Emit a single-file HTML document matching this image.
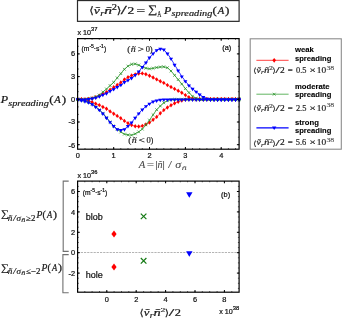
<!DOCTYPE html>
<html><head><meta charset="utf-8"><title>Spreading figure</title>
<style>html,body{margin:0;padding:0;background:#fff;}svg{display:block;}</style></head>
<body>
<svg width="342" height="318" viewBox="0 0 342 318">
<rect width="342" height="318" fill="#fff"/>
<rect x="77.5" y="0.55" width="161.6" height="20.8" fill="#fff" stroke="#2a2a2a" stroke-width="1.2"/>
<svg x="0" y="0" width="241" height="318" viewBox="0 0 241 318">
<polyline points="77.8,99.3 81.4,99.3 85.0,99.3 88.6,98.9 92.1,98.2 95.7,97.2 99.3,95.7 102.9,93.9 106.5,92.1 110.1,89.7 113.7,87.3 117.2,84.9 120.8,82.5 124.4,79.5 128.0,77.2 131.6,75.5 135.2,74.4 138.7,73.5 142.3,73.4 145.9,74.2 149.5,75.8 153.1,77.5 156.7,79.4 160.3,81.3 163.8,82.9 167.4,85.1 171.0,87.0 174.6,88.9 178.2,90.8 181.8,92.8 185.4,95.1 188.9,97.2 192.5,98.4 196.1,99.2 199.7,99.3 203.3,99.3 206.9,99.3 210.4,99.3 214.0,99.3 217.6,99.3 221.2,99.3 224.8,99.3 228.4,99.3 232.0,99.3 235.5,99.3 239.1,99.3" fill="none" stroke="#ff0000" stroke-width="0.7" stroke-linejoin="round"/>
<path d="M77.8,97.1l1.6,2.2l-1.6,2.2l-1.6,-2.2zM81.4,97.1l1.6,2.2l-1.6,2.2l-1.6,-2.2zM85.0,97.1l1.6,2.2l-1.6,2.2l-1.6,-2.2zM88.6,96.7l1.6,2.2l-1.6,2.2l-1.6,-2.2zM92.1,96.0l1.6,2.2l-1.6,2.2l-1.6,-2.2zM95.7,95.0l1.6,2.2l-1.6,2.2l-1.6,-2.2zM99.3,93.5l1.6,2.2l-1.6,2.2l-1.6,-2.2zM102.9,91.7l1.6,2.2l-1.6,2.2l-1.6,-2.2zM106.5,89.9l1.6,2.2l-1.6,2.2l-1.6,-2.2zM110.1,87.5l1.6,2.2l-1.6,2.2l-1.6,-2.2zM113.7,85.1l1.6,2.2l-1.6,2.2l-1.6,-2.2zM117.2,82.7l1.6,2.2l-1.6,2.2l-1.6,-2.2zM120.8,80.3l1.6,2.2l-1.6,2.2l-1.6,-2.2zM124.4,77.3l1.6,2.2l-1.6,2.2l-1.6,-2.2zM128.0,75.0l1.6,2.2l-1.6,2.2l-1.6,-2.2zM131.6,73.3l1.6,2.2l-1.6,2.2l-1.6,-2.2zM135.2,72.2l1.6,2.2l-1.6,2.2l-1.6,-2.2zM138.7,71.3l1.6,2.2l-1.6,2.2l-1.6,-2.2zM142.3,71.2l1.6,2.2l-1.6,2.2l-1.6,-2.2zM145.9,72.0l1.6,2.2l-1.6,2.2l-1.6,-2.2zM149.5,73.6l1.6,2.2l-1.6,2.2l-1.6,-2.2zM153.1,75.3l1.6,2.2l-1.6,2.2l-1.6,-2.2zM156.7,77.2l1.6,2.2l-1.6,2.2l-1.6,-2.2zM160.3,79.1l1.6,2.2l-1.6,2.2l-1.6,-2.2zM163.8,80.7l1.6,2.2l-1.6,2.2l-1.6,-2.2zM167.4,82.9l1.6,2.2l-1.6,2.2l-1.6,-2.2zM171.0,84.8l1.6,2.2l-1.6,2.2l-1.6,-2.2zM174.6,86.7l1.6,2.2l-1.6,2.2l-1.6,-2.2zM178.2,88.6l1.6,2.2l-1.6,2.2l-1.6,-2.2zM181.8,90.6l1.6,2.2l-1.6,2.2l-1.6,-2.2zM185.4,92.9l1.6,2.2l-1.6,2.2l-1.6,-2.2zM188.9,95.0l1.6,2.2l-1.6,2.2l-1.6,-2.2zM192.5,96.2l1.6,2.2l-1.6,2.2l-1.6,-2.2zM196.1,97.0l1.6,2.2l-1.6,2.2l-1.6,-2.2zM199.7,97.1l1.6,2.2l-1.6,2.2l-1.6,-2.2zM203.3,97.1l1.6,2.2l-1.6,2.2l-1.6,-2.2zM206.9,97.1l1.6,2.2l-1.6,2.2l-1.6,-2.2zM210.4,97.1l1.6,2.2l-1.6,2.2l-1.6,-2.2zM214.0,97.1l1.6,2.2l-1.6,2.2l-1.6,-2.2zM217.6,97.1l1.6,2.2l-1.6,2.2l-1.6,-2.2zM221.2,97.1l1.6,2.2l-1.6,2.2l-1.6,-2.2zM224.8,97.1l1.6,2.2l-1.6,2.2l-1.6,-2.2zM228.4,97.1l1.6,2.2l-1.6,2.2l-1.6,-2.2zM232.0,97.1l1.6,2.2l-1.6,2.2l-1.6,-2.2zM235.5,97.1l1.6,2.2l-1.6,2.2l-1.6,-2.2zM239.1,97.1l1.6,2.2l-1.6,2.2l-1.6,-2.2z" fill="#ff0000"/>
<polyline points="77.8,99.3 81.4,99.5 85.0,99.9 88.6,100.8 92.1,102.1 95.7,103.7 99.3,105.1 102.9,107.0 106.5,108.7 110.1,111.4 113.7,113.7 117.2,115.9 120.8,118.2 124.4,120.9 128.0,123.2 131.6,125.1 135.2,126.2 138.7,126.5 142.3,125.9 145.9,124.4 149.5,122.6 153.1,119.8 156.7,116.9 160.3,113.3 163.8,110.1 167.4,107.5 171.0,105.3 174.6,103.2 178.2,101.7 181.8,100.5 185.4,99.6 188.9,99.3 192.5,99.3 196.1,99.3 199.7,99.3 203.3,99.3 206.9,99.3 210.4,99.3 214.0,99.3 217.6,99.3 221.2,99.3 224.8,99.3 228.4,99.3 232.0,99.3 235.5,99.3 239.1,99.3" fill="none" stroke="#ff0000" stroke-width="0.7" stroke-linejoin="round"/>
<path d="M77.8,97.1l1.6,2.2l-1.6,2.2l-1.6,-2.2zM81.4,97.3l1.6,2.2l-1.6,2.2l-1.6,-2.2zM85.0,97.7l1.6,2.2l-1.6,2.2l-1.6,-2.2zM88.6,98.6l1.6,2.2l-1.6,2.2l-1.6,-2.2zM92.1,99.9l1.6,2.2l-1.6,2.2l-1.6,-2.2zM95.7,101.5l1.6,2.2l-1.6,2.2l-1.6,-2.2zM99.3,102.9l1.6,2.2l-1.6,2.2l-1.6,-2.2zM102.9,104.8l1.6,2.2l-1.6,2.2l-1.6,-2.2zM106.5,106.5l1.6,2.2l-1.6,2.2l-1.6,-2.2zM110.1,109.2l1.6,2.2l-1.6,2.2l-1.6,-2.2zM113.7,111.5l1.6,2.2l-1.6,2.2l-1.6,-2.2zM117.2,113.7l1.6,2.2l-1.6,2.2l-1.6,-2.2zM120.8,116.0l1.6,2.2l-1.6,2.2l-1.6,-2.2zM124.4,118.7l1.6,2.2l-1.6,2.2l-1.6,-2.2zM128.0,121.0l1.6,2.2l-1.6,2.2l-1.6,-2.2zM131.6,122.9l1.6,2.2l-1.6,2.2l-1.6,-2.2zM135.2,124.0l1.6,2.2l-1.6,2.2l-1.6,-2.2zM138.7,124.3l1.6,2.2l-1.6,2.2l-1.6,-2.2zM142.3,123.7l1.6,2.2l-1.6,2.2l-1.6,-2.2zM145.9,122.2l1.6,2.2l-1.6,2.2l-1.6,-2.2zM149.5,120.4l1.6,2.2l-1.6,2.2l-1.6,-2.2zM153.1,117.6l1.6,2.2l-1.6,2.2l-1.6,-2.2zM156.7,114.7l1.6,2.2l-1.6,2.2l-1.6,-2.2zM160.3,111.1l1.6,2.2l-1.6,2.2l-1.6,-2.2zM163.8,107.9l1.6,2.2l-1.6,2.2l-1.6,-2.2zM167.4,105.3l1.6,2.2l-1.6,2.2l-1.6,-2.2zM171.0,103.1l1.6,2.2l-1.6,2.2l-1.6,-2.2zM174.6,101.0l1.6,2.2l-1.6,2.2l-1.6,-2.2zM178.2,99.5l1.6,2.2l-1.6,2.2l-1.6,-2.2zM181.8,98.3l1.6,2.2l-1.6,2.2l-1.6,-2.2zM185.4,97.4l1.6,2.2l-1.6,2.2l-1.6,-2.2zM188.9,97.1l1.6,2.2l-1.6,2.2l-1.6,-2.2zM192.5,97.1l1.6,2.2l-1.6,2.2l-1.6,-2.2zM196.1,97.1l1.6,2.2l-1.6,2.2l-1.6,-2.2zM199.7,97.1l1.6,2.2l-1.6,2.2l-1.6,-2.2zM203.3,97.1l1.6,2.2l-1.6,2.2l-1.6,-2.2zM206.9,97.1l1.6,2.2l-1.6,2.2l-1.6,-2.2zM210.4,97.1l1.6,2.2l-1.6,2.2l-1.6,-2.2zM214.0,97.1l1.6,2.2l-1.6,2.2l-1.6,-2.2zM217.6,97.1l1.6,2.2l-1.6,2.2l-1.6,-2.2zM221.2,97.1l1.6,2.2l-1.6,2.2l-1.6,-2.2zM224.8,97.1l1.6,2.2l-1.6,2.2l-1.6,-2.2zM228.4,97.1l1.6,2.2l-1.6,2.2l-1.6,-2.2zM232.0,97.1l1.6,2.2l-1.6,2.2l-1.6,-2.2zM235.5,97.1l1.6,2.2l-1.6,2.2l-1.6,-2.2zM239.1,97.1l1.6,2.2l-1.6,2.2l-1.6,-2.2z" fill="#ff0000"/>
<polyline points="77.8,99.3 81.4,99.3 85.0,99.2 88.6,98.7 92.1,98.1 95.7,96.8 99.3,95.1 102.9,92.0 106.5,89.0 110.1,85.6 113.7,82.3 117.2,77.9 120.8,73.6 124.4,69.3 128.0,66.1 131.6,64.3 135.2,63.9 138.7,65.1 142.3,67.0 145.9,68.2 149.5,68.8 153.1,68.3 156.7,67.5 160.3,67.0 163.8,66.8 167.4,67.7 171.0,71.0 174.6,75.3 178.2,79.6 181.8,84.0 185.4,88.6 188.9,92.6 192.5,96.2 196.1,98.4 199.7,99.2 203.3,99.3 206.9,99.3 210.4,99.3 214.0,99.3 217.6,99.3 221.2,99.3 224.8,99.3 228.4,99.3 232.0,99.3 235.5,99.3 239.1,99.3" fill="none" stroke="#2e9e2e" stroke-width="0.8" stroke-linejoin="round"/>
<path d="M76.4,97.9l2.8,2.8M76.4,100.7l2.8,-2.8M80.0,97.9l2.8,2.8M80.0,100.7l2.8,-2.8M83.6,97.8l2.8,2.8M83.6,100.6l2.8,-2.8M87.2,97.3l2.8,2.8M87.2,100.1l2.8,-2.8M90.7,96.7l2.8,2.8M90.7,99.5l2.8,-2.8M94.3,95.4l2.8,2.8M94.3,98.2l2.8,-2.8M97.9,93.7l2.8,2.8M97.9,96.5l2.8,-2.8M101.5,90.6l2.8,2.8M101.5,93.4l2.8,-2.8M105.1,87.6l2.8,2.8M105.1,90.4l2.8,-2.8M108.7,84.2l2.8,2.8M108.7,87.0l2.8,-2.8M112.2,80.9l2.8,2.8M112.2,83.7l2.8,-2.8M115.8,76.5l2.8,2.8M115.8,79.3l2.8,-2.8M119.4,72.2l2.8,2.8M119.4,75.0l2.8,-2.8M123.0,67.9l2.8,2.8M123.0,70.7l2.8,-2.8M126.6,64.7l2.8,2.8M126.6,67.5l2.8,-2.8M130.2,62.9l2.8,2.8M130.2,65.7l2.8,-2.8M133.8,62.5l2.8,2.8M133.8,65.3l2.8,-2.8M137.3,63.7l2.8,2.8M137.3,66.5l2.8,-2.8M140.9,65.6l2.8,2.8M140.9,68.4l2.8,-2.8M144.5,66.8l2.8,2.8M144.5,69.6l2.8,-2.8M148.1,67.4l2.8,2.8M148.1,70.2l2.8,-2.8M151.7,66.9l2.8,2.8M151.7,69.7l2.8,-2.8M155.3,66.1l2.8,2.8M155.3,68.9l2.8,-2.8M158.9,65.6l2.8,2.8M158.9,68.4l2.8,-2.8M162.4,65.4l2.8,2.8M162.4,68.2l2.8,-2.8M166.0,66.3l2.8,2.8M166.0,69.1l2.8,-2.8M169.6,69.6l2.8,2.8M169.6,72.4l2.8,-2.8M173.2,73.9l2.8,2.8M173.2,76.7l2.8,-2.8M176.8,78.2l2.8,2.8M176.8,81.0l2.8,-2.8M180.4,82.6l2.8,2.8M180.4,85.4l2.8,-2.8M184.0,87.2l2.8,2.8M184.0,90.0l2.8,-2.8M187.5,91.2l2.8,2.8M187.5,94.0l2.8,-2.8M191.1,94.8l2.8,2.8M191.1,97.6l2.8,-2.8M194.7,97.0l2.8,2.8M194.7,99.8l2.8,-2.8M198.3,97.8l2.8,2.8M198.3,100.6l2.8,-2.8M201.9,97.9l2.8,2.8M201.9,100.7l2.8,-2.8M205.5,97.9l2.8,2.8M205.5,100.7l2.8,-2.8M209.0,97.9l2.8,2.8M209.0,100.7l2.8,-2.8M212.6,97.9l2.8,2.8M212.6,100.7l2.8,-2.8M216.2,97.9l2.8,2.8M216.2,100.7l2.8,-2.8M219.8,97.9l2.8,2.8M219.8,100.7l2.8,-2.8M223.4,97.9l2.8,2.8M223.4,100.7l2.8,-2.8M227.0,97.9l2.8,2.8M227.0,100.7l2.8,-2.8M230.6,97.9l2.8,2.8M230.6,100.7l2.8,-2.8M234.1,97.9l2.8,2.8M234.1,100.7l2.8,-2.8M237.7,97.9l2.8,2.8M237.7,100.7l2.8,-2.8" fill="none" stroke="#1f8a1f" stroke-width="0.7"/>
<polyline points="77.8,99.3 81.4,100.2 85.0,101.1 88.6,102.2 92.1,104.1 95.7,106.7 99.3,109.7 102.9,113.3 106.5,117.6 110.1,122.0 113.7,126.0 117.2,129.3 120.8,132.0 124.4,134.1 128.0,134.9 131.6,135.1 135.2,133.8 138.7,131.9 142.3,129.1 145.9,124.8 149.5,120.1 153.1,114.8 156.7,109.7 160.3,106.0 163.8,102.8 167.4,100.7 171.0,99.5 174.6,99.3 178.2,99.3 181.8,99.3 185.4,99.3 188.9,99.3 192.5,99.3 196.1,99.3 199.7,99.3 203.3,99.3 206.9,99.3 210.4,99.3 214.0,99.3 217.6,99.3 221.2,99.3 224.8,99.3 228.4,99.3 232.0,99.3 235.5,99.3 239.1,99.3" fill="none" stroke="#2e9e2e" stroke-width="0.8" stroke-linejoin="round"/>
<path d="M76.4,97.9l2.8,2.8M76.4,100.7l2.8,-2.8M80.0,98.8l2.8,2.8M80.0,101.6l2.8,-2.8M83.6,99.7l2.8,2.8M83.6,102.5l2.8,-2.8M87.2,100.8l2.8,2.8M87.2,103.6l2.8,-2.8M90.7,102.7l2.8,2.8M90.7,105.5l2.8,-2.8M94.3,105.3l2.8,2.8M94.3,108.1l2.8,-2.8M97.9,108.3l2.8,2.8M97.9,111.1l2.8,-2.8M101.5,111.9l2.8,2.8M101.5,114.7l2.8,-2.8M105.1,116.2l2.8,2.8M105.1,119.0l2.8,-2.8M108.7,120.6l2.8,2.8M108.7,123.4l2.8,-2.8M112.2,124.6l2.8,2.8M112.2,127.4l2.8,-2.8M115.8,127.9l2.8,2.8M115.8,130.7l2.8,-2.8M119.4,130.6l2.8,2.8M119.4,133.4l2.8,-2.8M123.0,132.7l2.8,2.8M123.0,135.5l2.8,-2.8M126.6,133.5l2.8,2.8M126.6,136.3l2.8,-2.8M130.2,133.7l2.8,2.8M130.2,136.5l2.8,-2.8M133.8,132.4l2.8,2.8M133.8,135.2l2.8,-2.8M137.3,130.5l2.8,2.8M137.3,133.3l2.8,-2.8M140.9,127.7l2.8,2.8M140.9,130.5l2.8,-2.8M144.5,123.4l2.8,2.8M144.5,126.2l2.8,-2.8M148.1,118.7l2.8,2.8M148.1,121.5l2.8,-2.8M151.7,113.4l2.8,2.8M151.7,116.2l2.8,-2.8M155.3,108.3l2.8,2.8M155.3,111.1l2.8,-2.8M158.9,104.6l2.8,2.8M158.9,107.4l2.8,-2.8M162.4,101.4l2.8,2.8M162.4,104.2l2.8,-2.8M166.0,99.3l2.8,2.8M166.0,102.1l2.8,-2.8M169.6,98.1l2.8,2.8M169.6,100.9l2.8,-2.8M173.2,97.9l2.8,2.8M173.2,100.7l2.8,-2.8M176.8,97.9l2.8,2.8M176.8,100.7l2.8,-2.8M180.4,97.9l2.8,2.8M180.4,100.7l2.8,-2.8M184.0,97.9l2.8,2.8M184.0,100.7l2.8,-2.8M187.5,97.9l2.8,2.8M187.5,100.7l2.8,-2.8M191.1,97.9l2.8,2.8M191.1,100.7l2.8,-2.8M194.7,97.9l2.8,2.8M194.7,100.7l2.8,-2.8M198.3,97.9l2.8,2.8M198.3,100.7l2.8,-2.8M201.9,97.9l2.8,2.8M201.9,100.7l2.8,-2.8M205.5,97.9l2.8,2.8M205.5,100.7l2.8,-2.8M209.0,97.9l2.8,2.8M209.0,100.7l2.8,-2.8M212.6,97.9l2.8,2.8M212.6,100.7l2.8,-2.8M216.2,97.9l2.8,2.8M216.2,100.7l2.8,-2.8M219.8,97.9l2.8,2.8M219.8,100.7l2.8,-2.8M223.4,97.9l2.8,2.8M223.4,100.7l2.8,-2.8M227.0,97.9l2.8,2.8M227.0,100.7l2.8,-2.8M230.6,97.9l2.8,2.8M230.6,100.7l2.8,-2.8M234.1,97.9l2.8,2.8M234.1,100.7l2.8,-2.8M237.7,97.9l2.8,2.8M237.7,100.7l2.8,-2.8" fill="none" stroke="#1f8a1f" stroke-width="0.7"/>
<polyline points="77.8,99.5 81.4,99.5 85.0,99.5 88.6,99.1 92.1,98.6 95.7,97.7 99.3,96.4 102.9,94.8 106.5,93.4 110.1,91.0 113.7,89.2 117.2,87.0 120.8,85.0 124.4,82.2 128.0,80.2 131.6,78.1 135.2,75.1 138.7,71.6 142.3,67.2 145.9,62.5 149.5,57.6 153.1,53.6 156.7,50.2 160.3,48.8 163.8,49.6 167.4,53.6 171.0,58.7 174.6,64.8 178.2,70.6 181.8,76.4 185.4,81.2 188.9,85.4 192.5,88.8 196.1,91.7 199.7,94.5 203.3,97.0 206.9,98.7 210.4,99.4 214.0,99.5 217.6,99.5 221.2,99.5 224.8,99.5 228.4,99.5 232.0,99.5 235.5,99.5 239.1,99.5" fill="none" stroke="#0000ff" stroke-width="0.8" stroke-linejoin="round"/>
<path d="M75.8,98.5h4.1l-2.05,3.4zM79.3,98.5h4.1l-2.05,3.4zM82.9,98.5h4.1l-2.05,3.4zM86.5,98.1h4.1l-2.05,3.4zM90.1,97.6h4.1l-2.05,3.4zM93.7,96.7h4.1l-2.05,3.4zM97.3,95.4h4.1l-2.05,3.4zM100.8,93.8h4.1l-2.05,3.4zM104.4,92.4h4.1l-2.05,3.4zM108.0,90.0h4.1l-2.05,3.4zM111.6,88.2h4.1l-2.05,3.4zM115.2,86.0h4.1l-2.05,3.4zM118.8,83.9h4.1l-2.05,3.4zM122.4,81.1h4.1l-2.05,3.4zM125.9,79.2h4.1l-2.05,3.4zM129.5,77.1h4.1l-2.05,3.4zM133.1,74.1h4.1l-2.05,3.4zM136.7,70.5h4.1l-2.05,3.4zM140.3,66.1h4.1l-2.05,3.4zM143.9,61.5h4.1l-2.05,3.4zM147.4,56.6h4.1l-2.05,3.4zM151.0,52.6h4.1l-2.05,3.4zM154.6,49.2h4.1l-2.05,3.4zM158.2,47.8h4.1l-2.05,3.4zM161.8,48.5h4.1l-2.05,3.4zM165.4,52.5h4.1l-2.05,3.4zM169.0,57.7h4.1l-2.05,3.4zM172.5,63.8h4.1l-2.05,3.4zM176.1,69.6h4.1l-2.05,3.4zM179.7,75.4h4.1l-2.05,3.4zM183.3,80.2h4.1l-2.05,3.4zM186.9,84.4h4.1l-2.05,3.4zM190.5,87.8h4.1l-2.05,3.4zM194.1,90.7h4.1l-2.05,3.4zM197.6,93.5h4.1l-2.05,3.4zM201.2,96.0h4.1l-2.05,3.4zM204.8,97.7h4.1l-2.05,3.4zM208.4,98.4h4.1l-2.05,3.4zM212.0,98.5h4.1l-2.05,3.4zM215.6,98.5h4.1l-2.05,3.4zM219.1,98.5h4.1l-2.05,3.4zM222.7,98.5h4.1l-2.05,3.4zM226.3,98.5h4.1l-2.05,3.4zM229.9,98.5h4.1l-2.05,3.4zM233.5,98.5h4.1l-2.05,3.4zM237.1,98.5h4.1l-2.05,3.4z" fill="#0000ff"/>
<polyline points="77.8,99.5 81.4,100.4 85.0,101.3 88.6,102.4 92.1,104.3 95.7,106.9 99.3,109.9 102.9,113.5 106.5,117.8 110.1,122.2 113.7,126.1 117.2,129.3 120.8,130.0 124.4,129.3 128.0,126.1 131.6,122.5 135.2,117.8 138.7,113.4 142.3,109.6 145.9,106.3 149.5,103.8 153.1,101.6 156.7,100.6 160.3,99.8 163.8,99.5 167.4,99.5 171.0,99.5 174.6,99.5 178.2,99.5 181.8,99.5 185.4,99.5 188.9,99.5 192.5,99.5 196.1,99.5 199.7,99.5 203.3,99.5 206.9,99.5 210.4,99.5 214.0,99.5 217.6,99.5 221.2,99.5 224.8,99.5 228.4,99.5 232.0,99.5 235.5,99.5 239.1,99.5" fill="none" stroke="#0000ff" stroke-width="0.8" stroke-linejoin="round"/>
<path d="M75.8,98.5h4.1l-2.05,3.4zM79.3,99.4h4.1l-2.05,3.4zM82.9,100.3h4.1l-2.05,3.4zM86.5,101.4h4.1l-2.05,3.4zM90.1,103.3h4.1l-2.05,3.4zM93.7,105.9h4.1l-2.05,3.4zM97.3,108.9h4.1l-2.05,3.4zM100.8,112.5h4.1l-2.05,3.4zM104.4,116.8h4.1l-2.05,3.4zM108.0,121.2h4.1l-2.05,3.4zM111.6,125.1h4.1l-2.05,3.4zM115.2,128.3h4.1l-2.05,3.4zM118.8,129.0h4.1l-2.05,3.4zM122.4,128.3h4.1l-2.05,3.4zM125.9,125.1h4.1l-2.05,3.4zM129.5,121.5h4.1l-2.05,3.4zM133.1,116.8h4.1l-2.05,3.4zM136.7,112.4h4.1l-2.05,3.4zM140.3,108.6h4.1l-2.05,3.4zM143.9,105.2h4.1l-2.05,3.4zM147.4,102.7h4.1l-2.05,3.4zM151.0,100.6h4.1l-2.05,3.4zM154.6,99.5h4.1l-2.05,3.4zM158.2,98.8h4.1l-2.05,3.4zM161.8,98.5h4.1l-2.05,3.4zM165.4,98.5h4.1l-2.05,3.4zM169.0,98.5h4.1l-2.05,3.4zM172.5,98.5h4.1l-2.05,3.4zM176.1,98.5h4.1l-2.05,3.4zM179.7,98.5h4.1l-2.05,3.4zM183.3,98.5h4.1l-2.05,3.4zM186.9,98.5h4.1l-2.05,3.4zM190.5,98.5h4.1l-2.05,3.4zM194.1,98.5h4.1l-2.05,3.4zM197.6,98.5h4.1l-2.05,3.4zM201.2,98.5h4.1l-2.05,3.4zM204.8,98.5h4.1l-2.05,3.4zM208.4,98.5h4.1l-2.05,3.4zM212.0,98.5h4.1l-2.05,3.4zM215.6,98.5h4.1l-2.05,3.4zM219.1,98.5h4.1l-2.05,3.4zM222.7,98.5h4.1l-2.05,3.4zM226.3,98.5h4.1l-2.05,3.4zM229.9,98.5h4.1l-2.05,3.4zM233.5,98.5h4.1l-2.05,3.4zM237.1,98.5h4.1l-2.05,3.4z" fill="#0000ff"/>
</svg>
<rect x="77.6" y="38.6" width="161.5" height="110.6" fill="none" stroke="#000" stroke-width="1.2"/>
<path d="M113.7,149.2v-2.2M113.7,38.6v2.2M149.5,149.2v-2.2M149.5,38.6v2.2M185.4,149.2v-2.2M185.4,38.6v2.2M221.2,149.2v-2.2M221.2,38.6v2.2M77.6,53.9h2.2M239.1,53.9h-2.2M77.6,76.6h2.2M239.1,76.6h-2.2M77.6,99.3h2.2M239.1,99.3h-2.2M77.6,122.0h2.2M239.1,122.0h-2.2M77.6,144.7h2.2M239.1,144.7h-2.2" stroke="#000" stroke-width="1" fill="none"/>
<path d="M85.0,149.2v-1.2M85.0,38.6v1.2M92.1,149.2v-1.2M92.1,38.6v1.2M99.3,149.2v-1.2M99.3,38.6v1.2M106.5,149.2v-1.2M106.5,38.6v1.2M113.7,149.2v-1.2M113.7,38.6v1.2M120.8,149.2v-1.2M120.8,38.6v1.2M128.0,149.2v-1.2M128.0,38.6v1.2M135.2,149.2v-1.2M135.2,38.6v1.2M142.3,149.2v-1.2M142.3,38.6v1.2M149.5,149.2v-1.2M149.5,38.6v1.2M156.7,149.2v-1.2M156.7,38.6v1.2M163.8,149.2v-1.2M163.8,38.6v1.2M171.0,149.2v-1.2M171.0,38.6v1.2M178.2,149.2v-1.2M178.2,38.6v1.2M185.4,149.2v-1.2M185.4,38.6v1.2M192.5,149.2v-1.2M192.5,38.6v1.2M199.7,149.2v-1.2M199.7,38.6v1.2M206.9,149.2v-1.2M206.9,38.6v1.2M214.0,149.2v-1.2M214.0,38.6v1.2M221.2,149.2v-1.2M221.2,38.6v1.2M228.4,149.2v-1.2M228.4,38.6v1.2M235.5,149.2v-1.2M235.5,38.6v1.2M77.6,144.7h1.2M239.1,144.7h-1.2M77.6,137.2h1.2M239.1,137.2h-1.2M77.6,129.6h1.2M239.1,129.6h-1.2M77.6,122.0h1.2M239.1,122.0h-1.2M77.6,114.4h1.2M239.1,114.4h-1.2M77.6,106.9h1.2M239.1,106.9h-1.2M77.6,99.3h1.2M239.1,99.3h-1.2M77.6,91.7h1.2M239.1,91.7h-1.2M77.6,84.2h1.2M239.1,84.2h-1.2M77.6,76.6h1.2M239.1,76.6h-1.2M77.6,69.0h1.2M239.1,69.0h-1.2M77.6,61.4h1.2M239.1,61.4h-1.2M77.6,53.9h1.2M239.1,53.9h-1.2M77.6,46.3h1.2M239.1,46.3h-1.2M77.6,38.7h1.2M239.1,38.7h-1.2" stroke="#000" stroke-width="0.6" fill="none"/>
<path d="M77.6,252.5H239.1" stroke="#b4b4b4" stroke-width="1" stroke-dasharray="2.2,1"/>
<path d="M114,230.4l2.6,3.5l-2.6,3.5l-2.6,-3.5z" fill="#ff0000"/>
<path d="M114,263.4l2.6,3.5l-2.6,3.5l-2.6,-3.5z" fill="#ff0000"/>
<path d="M140.79999999999998,213.6l5.6,5.6M140.79999999999998,219.20000000000002l5.6,-5.6" stroke="#157a15" stroke-width="1.2" fill="none"/>
<path d="M140.79999999999998,258.0l5.6,5.6M140.79999999999998,263.6l5.6,-5.6" stroke="#157a15" stroke-width="1.2" fill="none"/>
<path d="M186.10000000000002,192.3h6.4l-3.2,5.5z" fill="#0000ff"/>
<path d="M186.10000000000002,251.2h6.4l-3.2,5.5z" fill="#0000ff"/>
<rect x="77.6" y="181.1" width="161.5" height="111.1" fill="none" stroke="#000" stroke-width="1.2"/>
<path d="M106.8,292.2v-2.2M106.8,181.1v2.2M136.2,292.2v-2.2M136.2,181.1v2.2M165.6,292.2v-2.2M165.6,181.1v2.2M195.0,292.2v-2.2M195.0,181.1v2.2M224.4,292.2v-2.2M224.4,181.1v2.2M77.6,191.5h2.2M239.1,191.5h-2.2M77.6,211.9h2.2M239.1,211.9h-2.2M77.6,232.3h2.2M239.1,232.3h-2.2M77.6,252.7h2.2M239.1,252.7h-2.2M77.6,273.1h2.2M239.1,273.1h-2.2" stroke="#000" stroke-width="1" fill="none"/>
<path d="M84.8,292.2v-1.2M84.8,181.1v1.2M92.1,292.2v-1.2M92.1,181.1v1.2M99.5,292.2v-1.2M99.5,181.1v1.2M106.8,292.2v-1.2M106.8,181.1v1.2M114.1,292.2v-1.2M114.1,181.1v1.2M121.5,292.2v-1.2M121.5,181.1v1.2M128.8,292.2v-1.2M128.8,181.1v1.2M136.2,292.2v-1.2M136.2,181.1v1.2M143.6,292.2v-1.2M143.6,181.1v1.2M150.9,292.2v-1.2M150.9,181.1v1.2M158.2,292.2v-1.2M158.2,181.1v1.2M165.6,292.2v-1.2M165.6,181.1v1.2M172.9,292.2v-1.2M172.9,181.1v1.2M180.3,292.2v-1.2M180.3,181.1v1.2M187.6,292.2v-1.2M187.6,181.1v1.2M195.0,292.2v-1.2M195.0,181.1v1.2M202.3,292.2v-1.2M202.3,181.1v1.2M209.7,292.2v-1.2M209.7,181.1v1.2M217.1,292.2v-1.2M217.1,181.1v1.2M224.4,292.2v-1.2M224.4,181.1v1.2M231.8,292.2v-1.2M231.8,181.1v1.2M77.6,288.4h1.2M239.1,288.4h-1.2M77.6,283.3h1.2M239.1,283.3h-1.2M77.6,278.2h1.2M239.1,278.2h-1.2M77.6,273.1h1.2M239.1,273.1h-1.2M77.6,268.0h1.2M239.1,268.0h-1.2M77.6,262.9h1.2M239.1,262.9h-1.2M77.6,257.8h1.2M239.1,257.8h-1.2M77.6,252.7h1.2M239.1,252.7h-1.2M77.6,247.6h1.2M239.1,247.6h-1.2M77.6,242.5h1.2M239.1,242.5h-1.2M77.6,237.4h1.2M239.1,237.4h-1.2M77.6,232.3h1.2M239.1,232.3h-1.2M77.6,227.2h1.2M239.1,227.2h-1.2M77.6,222.1h1.2M239.1,222.1h-1.2M77.6,217.0h1.2M239.1,217.0h-1.2M77.6,211.9h1.2M239.1,211.9h-1.2M77.6,206.8h1.2M239.1,206.8h-1.2M77.6,201.7h1.2M239.1,201.7h-1.2M77.6,196.6h1.2M239.1,196.6h-1.2M77.6,191.5h1.2M239.1,191.5h-1.2M77.6,186.4h1.2M239.1,186.4h-1.2" stroke="#000" stroke-width="0.6" fill="none"/>
<path d="M68.7,181.1H63.2V251.4H68.7M68.7,254.6H62.9V292.7H68.7" fill="none" stroke="#707070" stroke-width="1.1"/>
<rect x="250.2" y="38.8" width="91.1" height="110.4" fill="#fff" stroke="#8c8c8c" stroke-width="1.1"/>
<text x="295" y="52.30" font-size="7.7" text-anchor="start" fill="#000" stroke="#000" stroke-width="0.1" font-family="Liberation Sans, Arial, sans-serif" font-weight="bold">weak</text>
<text x="295" y="60.50" font-size="7.6" text-anchor="start" fill="#000" stroke="#000" stroke-width="0.1" font-family="Liberation Sans, Arial, sans-serif" font-weight="bold">spreading</text>
<text x="253.26" y="73.33" font-size="7.07" fill="#222" font-family="DejaVu Sans, sans-serif" textLength="3.22" lengthAdjust="spacingAndGlyphs"  stroke="#222" stroke-width="0.16">⟨</text>
<text x="256.46" y="72.80" font-size="7.56" fill="#222" font-family="Liberation Serif, serif" font-style="italic" textLength="4.31" lengthAdjust="spacingAndGlyphs"  stroke="#222" stroke-width="0.17">ṽ</text>
<text x="261.05" y="74.41" font-size="5.6" fill="#222" font-family="Liberation Serif, serif" font-style="italic" textLength="2.87" lengthAdjust="spacingAndGlyphs"  stroke="#222" stroke-width="0.12">r</text>
<text x="263.90" y="72.80" font-size="7.56" fill="#222" font-family="Liberation Serif, serif" font-style="italic" textLength="5.47" lengthAdjust="spacingAndGlyphs"  stroke="#222" stroke-width="0.17">ñ</text>
<text x="269.15" y="70.28" font-size="5.32" fill="#222" font-family="Liberation Serif, serif" textLength="3.67" lengthAdjust="spacingAndGlyphs"  stroke="#222" stroke-width="0.12">2</text>
<text x="272.52" y="73.33" font-size="7.07" fill="#222" font-family="DejaVu Sans, sans-serif" textLength="3.22" lengthAdjust="spacingAndGlyphs"  stroke="#222" stroke-width="0.16">⟩</text>
<text x="275.42" y="73.22" font-size="8.4" fill="#222" font-family="Liberation Serif, serif" textLength="4.20" lengthAdjust="spacingAndGlyphs"  stroke="#222" stroke-width="0.18">/</text>
<text x="280.05" y="72.80" font-size="7.56" fill="#222" font-family="Liberation Serif, serif" textLength="4.71" lengthAdjust="spacingAndGlyphs"  stroke="#222" stroke-width="0.17">2</text>
<text x="287.86" y="72.80" font-size="8.3" fill="#222" font-family="Liberation Serif, serif" textLength="4.97" lengthAdjust="spacingAndGlyphs"  stroke="#222" stroke-width="0.18">=</text>
<text x="295.98" y="72.80" font-size="8.3" fill="#222" font-family="Liberation Serif, serif" textLength="10.44" lengthAdjust="spacingAndGlyphs"  stroke="#222" stroke-width="0.18">0.5</text>
<text x="309.62" y="72.80" font-size="8.3" fill="#222" font-family="Liberation Serif, serif" textLength="6.24" lengthAdjust="spacingAndGlyphs"  stroke="#222" stroke-width="0.18">×</text>
<text x="316.88" y="72.80" font-size="8.3" fill="#222" font-family="Liberation Serif, serif" textLength="9.38" lengthAdjust="spacingAndGlyphs"  stroke="#222" stroke-width="0.18">10</text>
<text x="326.42" y="69.50" font-size="6.2" fill="#444" font-family="Liberation Serif, serif" textLength="7.88" lengthAdjust="spacingAndGlyphs"  stroke="#444" stroke-width="0.05">38</text>
<path d="M256.4,60.3H288.6" stroke="#ff0000" stroke-width="0.75"/>
<path d="M274.2,57.9l1.8,2.4l-1.8,2.4l-1.8,-2.4z" fill="#ff0000"/>
<text x="295" y="88.50" font-size="7.7" text-anchor="start" fill="#000" stroke="#000" stroke-width="0.1" font-family="Liberation Sans, Arial, sans-serif" font-weight="bold">moderate</text>
<text x="295" y="96.60" font-size="7.6" text-anchor="start" fill="#000" stroke="#000" stroke-width="0.1" font-family="Liberation Sans, Arial, sans-serif" font-weight="bold">spreading</text>
<text x="253.26" y="111.03" font-size="7.07" fill="#222" font-family="DejaVu Sans, sans-serif" textLength="3.22" lengthAdjust="spacingAndGlyphs"  stroke="#222" stroke-width="0.16">⟨</text>
<text x="256.46" y="110.50" font-size="7.56" fill="#222" font-family="Liberation Serif, serif" font-style="italic" textLength="4.31" lengthAdjust="spacingAndGlyphs"  stroke="#222" stroke-width="0.17">ṽ</text>
<text x="261.05" y="112.11" font-size="5.6" fill="#222" font-family="Liberation Serif, serif" font-style="italic" textLength="2.87" lengthAdjust="spacingAndGlyphs"  stroke="#222" stroke-width="0.12">r</text>
<text x="263.90" y="110.50" font-size="7.56" fill="#222" font-family="Liberation Serif, serif" font-style="italic" textLength="5.47" lengthAdjust="spacingAndGlyphs"  stroke="#222" stroke-width="0.17">ñ</text>
<text x="269.15" y="107.98" font-size="5.32" fill="#222" font-family="Liberation Serif, serif" textLength="3.67" lengthAdjust="spacingAndGlyphs"  stroke="#222" stroke-width="0.12">2</text>
<text x="272.52" y="111.03" font-size="7.07" fill="#222" font-family="DejaVu Sans, sans-serif" textLength="3.22" lengthAdjust="spacingAndGlyphs"  stroke="#222" stroke-width="0.16">⟩</text>
<text x="275.42" y="110.92" font-size="8.4" fill="#222" font-family="Liberation Serif, serif" textLength="4.20" lengthAdjust="spacingAndGlyphs"  stroke="#222" stroke-width="0.18">/</text>
<text x="280.05" y="110.50" font-size="7.56" fill="#222" font-family="Liberation Serif, serif" textLength="4.71" lengthAdjust="spacingAndGlyphs"  stroke="#222" stroke-width="0.17">2</text>
<text x="287.86" y="110.50" font-size="8.3" fill="#222" font-family="Liberation Serif, serif" textLength="4.97" lengthAdjust="spacingAndGlyphs"  stroke="#222" stroke-width="0.18">=</text>
<text x="295.93" y="110.50" font-size="8.3" fill="#222" font-family="Liberation Serif, serif" textLength="10.50" lengthAdjust="spacingAndGlyphs"  stroke="#222" stroke-width="0.18">2.5</text>
<text x="309.62" y="110.50" font-size="8.3" fill="#222" font-family="Liberation Serif, serif" textLength="6.24" lengthAdjust="spacingAndGlyphs"  stroke="#222" stroke-width="0.18">×</text>
<text x="316.88" y="110.50" font-size="8.3" fill="#222" font-family="Liberation Serif, serif" textLength="9.38" lengthAdjust="spacingAndGlyphs"  stroke="#222" stroke-width="0.18">10</text>
<text x="326.42" y="107.20" font-size="6.2" fill="#444" font-family="Liberation Serif, serif" textLength="7.88" lengthAdjust="spacingAndGlyphs"  stroke="#444" stroke-width="0.05">38</text>
<path d="M256.4,94.2H288.6" stroke="#2e9e2e" stroke-width="0.75"/>
<path d="M272.8,92.8l2.8,2.8M272.8,95.60000000000001l2.8,-2.8" stroke="#1f8a1f" stroke-width="0.7"/>
<text x="295" y="125.00" font-size="7.7" text-anchor="start" fill="#000" stroke="#000" stroke-width="0.1" font-family="Liberation Sans, Arial, sans-serif" font-weight="bold">strong</text>
<text x="295" y="133.30" font-size="7.6" text-anchor="start" fill="#000" stroke="#000" stroke-width="0.1" font-family="Liberation Sans, Arial, sans-serif" font-weight="bold">spreading</text>
<text x="253.26" y="145.72" font-size="7.07" fill="#222" font-family="DejaVu Sans, sans-serif" textLength="3.22" lengthAdjust="spacingAndGlyphs"  stroke="#222" stroke-width="0.16">⟨</text>
<text x="256.46" y="145.20" font-size="7.56" fill="#222" font-family="Liberation Serif, serif" font-style="italic" textLength="4.31" lengthAdjust="spacingAndGlyphs"  stroke="#222" stroke-width="0.17">ṽ</text>
<text x="261.05" y="146.81" font-size="5.6" fill="#222" font-family="Liberation Serif, serif" font-style="italic" textLength="2.87" lengthAdjust="spacingAndGlyphs"  stroke="#222" stroke-width="0.12">r</text>
<text x="263.90" y="145.20" font-size="7.56" fill="#222" font-family="Liberation Serif, serif" font-style="italic" textLength="5.47" lengthAdjust="spacingAndGlyphs"  stroke="#222" stroke-width="0.17">ñ</text>
<text x="269.15" y="142.68" font-size="5.32" fill="#222" font-family="Liberation Serif, serif" textLength="3.67" lengthAdjust="spacingAndGlyphs"  stroke="#222" stroke-width="0.12">2</text>
<text x="272.52" y="145.72" font-size="7.07" fill="#222" font-family="DejaVu Sans, sans-serif" textLength="3.22" lengthAdjust="spacingAndGlyphs"  stroke="#222" stroke-width="0.16">⟩</text>
<text x="275.42" y="145.62" font-size="8.4" fill="#222" font-family="Liberation Serif, serif" textLength="4.20" lengthAdjust="spacingAndGlyphs"  stroke="#222" stroke-width="0.18">/</text>
<text x="280.05" y="145.20" font-size="7.56" fill="#222" font-family="Liberation Serif, serif" textLength="4.71" lengthAdjust="spacingAndGlyphs"  stroke="#222" stroke-width="0.17">2</text>
<text x="287.86" y="145.20" font-size="8.3" fill="#222" font-family="Liberation Serif, serif" textLength="4.97" lengthAdjust="spacingAndGlyphs"  stroke="#222" stroke-width="0.18">=</text>
<text x="295.81" y="145.20" font-size="8.3" fill="#222" font-family="Liberation Serif, serif" textLength="10.54" lengthAdjust="spacingAndGlyphs"  stroke="#222" stroke-width="0.18">5.6</text>
<text x="309.62" y="145.20" font-size="8.3" fill="#222" font-family="Liberation Serif, serif" textLength="6.24" lengthAdjust="spacingAndGlyphs"  stroke="#222" stroke-width="0.18">×</text>
<text x="316.88" y="145.20" font-size="8.3" fill="#222" font-family="Liberation Serif, serif" textLength="9.38" lengthAdjust="spacingAndGlyphs"  stroke="#222" stroke-width="0.18">10</text>
<text x="326.42" y="141.90" font-size="6.2" fill="#444" font-family="Liberation Serif, serif" textLength="7.88" lengthAdjust="spacingAndGlyphs"  stroke="#444" stroke-width="0.05">38</text>
<path d="M256.4,127.9H288.6" stroke="#0000ff" stroke-width="1.1"/>
<path d="M272.0,126.4h4.4l-2.2,3.7z" fill="#0000ff"/>
<text x="75.2" y="56.08" font-size="7.4" text-anchor="end" fill="#111" stroke="#111" stroke-width="0.22" font-family="Liberation Sans, Arial, sans-serif" >6</text>
<text x="75.2" y="78.79" font-size="7.4" text-anchor="end" fill="#111" stroke="#111" stroke-width="0.22" font-family="Liberation Sans, Arial, sans-serif" >3</text>
<text x="75.2" y="101.50" font-size="7.4" text-anchor="end" fill="#111" stroke="#111" stroke-width="0.22" font-family="Liberation Sans, Arial, sans-serif" >0</text>
<text x="75.2" y="124.21" font-size="7.4" text-anchor="end" fill="#111" stroke="#111" stroke-width="0.22" font-family="Liberation Sans, Arial, sans-serif" >-3</text>
<text x="75.2" y="147.52" font-size="7.4" text-anchor="end" fill="#111" stroke="#111" stroke-width="0.22" font-family="Liberation Sans, Arial, sans-serif" >-6</text>
<text x="77.8" y="158.10" font-size="7.4" text-anchor="middle" fill="#111" stroke="#111" stroke-width="0.22" font-family="Liberation Sans, Arial, sans-serif" >0</text>
<text x="113.65" y="158.10" font-size="7.4" text-anchor="middle" fill="#111" stroke="#111" stroke-width="0.22" font-family="Liberation Sans, Arial, sans-serif" >1</text>
<text x="149.5" y="158.10" font-size="7.4" text-anchor="middle" fill="#111" stroke="#111" stroke-width="0.22" font-family="Liberation Sans, Arial, sans-serif" >2</text>
<text x="185.35000000000002" y="158.10" font-size="7.4" text-anchor="middle" fill="#111" stroke="#111" stroke-width="0.22" font-family="Liberation Sans, Arial, sans-serif" >3</text>
<text x="221.2" y="158.10" font-size="7.4" text-anchor="middle" fill="#111" stroke="#111" stroke-width="0.22" font-family="Liberation Sans, Arial, sans-serif" >4</text>
<text x="77.5" y="35.20" font-size="7.2" text-anchor="start" fill="#111" stroke="#111" stroke-width="0.22" font-family="Liberation Sans, Arial, sans-serif" >x 10<tspan dy="-3.9" font-size="5.8">37</tspan></text>
<text x="81.6" y="50.80" font-size="6.7" text-anchor="start" fill="#111" stroke="#111" stroke-width="0.22" font-family="Liberation Sans, Arial, sans-serif" >(m<tspan dy="-2.6" font-size="5">-5</tspan><tspan dy="2.6">·s</tspan><tspan dy="-2.6" font-size="5">-1</tspan><tspan dy="2.6">)</tspan></text>
<text x="222.2" y="50.10" font-size="7.4" text-anchor="start" fill="#111" stroke="#111" stroke-width="0.22" font-family="Liberation Sans, Arial, sans-serif" >(a)</text>
<text x="75.0" y="194.20" font-size="7.4" text-anchor="end" fill="#111" stroke="#111" stroke-width="0.22" font-family="Liberation Sans, Arial, sans-serif" >6</text>
<text x="75.0" y="214.60" font-size="7.4" text-anchor="end" fill="#111" stroke="#111" stroke-width="0.22" font-family="Liberation Sans, Arial, sans-serif" >4</text>
<text x="75.0" y="235.00" font-size="7.4" text-anchor="end" fill="#111" stroke="#111" stroke-width="0.22" font-family="Liberation Sans, Arial, sans-serif" >2</text>
<text x="75.0" y="255.40" font-size="7.4" text-anchor="end" fill="#111" stroke="#111" stroke-width="0.22" font-family="Liberation Sans, Arial, sans-serif" >0</text>
<text x="75.0" y="275.80" font-size="7.4" text-anchor="end" fill="#111" stroke="#111" stroke-width="0.22" font-family="Liberation Sans, Arial, sans-serif" >-2</text>
<text x="106.8" y="301.60" font-size="7.4" text-anchor="middle" fill="#111" stroke="#111" stroke-width="0.22" font-family="Liberation Sans, Arial, sans-serif" >0</text>
<text x="136.2" y="301.60" font-size="7.4" text-anchor="middle" fill="#111" stroke="#111" stroke-width="0.22" font-family="Liberation Sans, Arial, sans-serif" >2</text>
<text x="165.6" y="301.60" font-size="7.4" text-anchor="middle" fill="#111" stroke="#111" stroke-width="0.22" font-family="Liberation Sans, Arial, sans-serif" >4</text>
<text x="195.0" y="301.60" font-size="7.4" text-anchor="middle" fill="#111" stroke="#111" stroke-width="0.22" font-family="Liberation Sans, Arial, sans-serif" >6</text>
<text x="224.39999999999998" y="301.60" font-size="7.4" text-anchor="middle" fill="#111" stroke="#111" stroke-width="0.22" font-family="Liberation Sans, Arial, sans-serif" >8</text>
<text x="77.5" y="177.80" font-size="7.2" text-anchor="start" fill="#111" stroke="#111" stroke-width="0.22" font-family="Liberation Sans, Arial, sans-serif" >x 10<tspan dy="-3.9" font-size="5.8">36</tspan></text>
<text x="219.2" y="314.20" font-size="7.2" text-anchor="start" fill="#111" stroke="#111" stroke-width="0.22" font-family="Liberation Sans, Arial, sans-serif" >x 10<tspan dy="-3.9" font-size="5.8">38</tspan></text>
<text x="82.7" y="194.80" font-size="6.7" text-anchor="start" fill="#111" stroke="#111" stroke-width="0.22" font-family="Liberation Sans, Arial, sans-serif" >(m<tspan dy="-2.6" font-size="5">-5</tspan><tspan dy="2.6">·s</tspan><tspan dy="-2.6" font-size="5">-1</tspan><tspan dy="2.6">)</tspan></text>
<text x="221.1" y="196.60" font-size="7.4" text-anchor="start" fill="#111" stroke="#111" stroke-width="0.22" font-family="Liberation Sans, Arial, sans-serif" >(b)</text>
<text x="85.7" y="219.70" font-size="9" text-anchor="start" fill="#111" stroke="#111" stroke-width="0.22" font-family="Liberation Sans, Arial, sans-serif" >blob</text>
<text x="85.7" y="277.80" font-size="9" text-anchor="start" fill="#111" stroke="#111" stroke-width="0.22" font-family="Liberation Sans, Arial, sans-serif" >hole</text>
<text x="89.15" y="14.25" font-size="10.1" fill="#1a1a1a" font-family="DejaVu Sans, sans-serif" textLength="4.60" lengthAdjust="spacingAndGlyphs"  stroke="#1a1a1a" stroke-width="0.22">⟨</text>
<text x="93.71" y="13.50" font-size="10.8" fill="#1a1a1a" font-family="Liberation Serif, serif" font-style="italic" textLength="6.15" lengthAdjust="spacingAndGlyphs"  stroke="#1a1a1a" stroke-width="0.24">ṽ</text>
<text x="100.27" y="15.80" font-size="8.0" fill="#1a1a1a" font-family="Liberation Serif, serif" font-style="italic" textLength="4.10" lengthAdjust="spacingAndGlyphs"  stroke="#1a1a1a" stroke-width="0.18">r</text>
<text x="104.34" y="13.50" font-size="10.8" fill="#1a1a1a" font-family="Liberation Serif, serif" font-style="italic" textLength="7.81" lengthAdjust="spacingAndGlyphs"  stroke="#1a1a1a" stroke-width="0.24">ñ</text>
<text x="111.84" y="9.90" font-size="7.6" fill="#1a1a1a" font-family="Liberation Serif, serif" textLength="5.24" lengthAdjust="spacingAndGlyphs"  stroke="#1a1a1a" stroke-width="0.17">2</text>
<text x="116.66" y="14.25" font-size="10.1" fill="#1a1a1a" font-family="DejaVu Sans, sans-serif" textLength="4.60" lengthAdjust="spacingAndGlyphs"  stroke="#1a1a1a" stroke-width="0.22">⟩</text>
<text x="120.80" y="14.10" font-size="12.0" fill="#1a1a1a" font-family="Liberation Serif, serif" textLength="6.00" lengthAdjust="spacingAndGlyphs"  stroke="#1a1a1a" stroke-width="0.26">/</text>
<text x="127.41" y="13.50" font-size="10.8" fill="#1a1a1a" font-family="Liberation Serif, serif" textLength="6.74" lengthAdjust="spacingAndGlyphs"  stroke="#1a1a1a" stroke-width="0.24">2</text>
<text x="136.54" y="13.50" font-size="11" fill="#1a1a1a" font-family="Liberation Serif, serif" textLength="8.60" lengthAdjust="spacingAndGlyphs"  stroke="#1a1a1a" stroke-width="0.24">=</text>
<text x="148.32" y="13.30" font-size="11.4" fill="#1a1a1a" font-family="Liberation Serif, serif" textLength="9.18" lengthAdjust="spacingAndGlyphs"  stroke="#1a1a1a" stroke-width="0.25">∑</text>
<text x="157.34" y="16.70" font-size="7.4" fill="#1a1a1a" font-family="Liberation Serif, serif" textLength="4.10" lengthAdjust="spacingAndGlyphs"  stroke="#1a1a1a" stroke-width="0.16">A</text>
<text x="164.06" y="13.50" font-size="10.8" fill="#1a1a1a" font-family="Liberation Serif, serif" font-style="italic" textLength="7.34" lengthAdjust="spacingAndGlyphs"  stroke="#1a1a1a" stroke-width="0.24">P</text>
<text x="171.58" y="16.10" font-size="8.2" fill="#1a1a1a" font-family="Liberation Serif, serif" font-style="italic" textLength="40.72" lengthAdjust="spacingAndGlyphs"  stroke="#1a1a1a" stroke-width="0.18">spreading</text>
<text x="212.64" y="13.80" font-size="11.2" fill="#1a1a1a" font-family="Liberation Serif, serif" textLength="4.28" lengthAdjust="spacingAndGlyphs"  stroke="#1a1a1a" stroke-width="0.25">(</text>
<text x="217.68" y="13.50" font-size="10.8" fill="#1a1a1a" font-family="Liberation Serif, serif" font-style="italic" textLength="6.48" lengthAdjust="spacingAndGlyphs"  stroke="#1a1a1a" stroke-width="0.24">A</text>
<text x="225.07" y="13.80" font-size="11.2" fill="#1a1a1a" font-family="Liberation Serif, serif" textLength="4.41" lengthAdjust="spacingAndGlyphs"  stroke="#1a1a1a" stroke-width="0.25">)</text>
<text x="0.66" y="102.90" font-size="10.8" fill="#1a1a1a" font-family="Liberation Serif, serif" font-style="italic" textLength="7.34" lengthAdjust="spacingAndGlyphs"  stroke="#1a1a1a" stroke-width="0.24">P</text>
<text x="8.18" y="105.50" font-size="8.2" fill="#1a1a1a" font-family="Liberation Serif, serif" font-style="italic" textLength="40.72" lengthAdjust="spacingAndGlyphs"  stroke="#1a1a1a" stroke-width="0.18">spreading</text>
<text x="49.24" y="103.20" font-size="11.2" fill="#1a1a1a" font-family="Liberation Serif, serif" textLength="4.28" lengthAdjust="spacingAndGlyphs"  stroke="#1a1a1a" stroke-width="0.25">(</text>
<text x="54.28" y="102.90" font-size="10.8" fill="#1a1a1a" font-family="Liberation Serif, serif" font-style="italic" textLength="6.48" lengthAdjust="spacingAndGlyphs"  stroke="#1a1a1a" stroke-width="0.24">A</text>
<text x="61.67" y="103.20" font-size="11.2" fill="#1a1a1a" font-family="Liberation Serif, serif" textLength="4.41" lengthAdjust="spacingAndGlyphs"  stroke="#1a1a1a" stroke-width="0.25">)</text>
<text x="139.43" y="316.39" font-size="9.34" fill="#1a1a1a" font-family="DejaVu Sans, sans-serif" textLength="4.25" lengthAdjust="spacingAndGlyphs"  stroke="#1a1a1a" stroke-width="0.21">⟨</text>
<text x="143.65" y="315.70" font-size="9.99" fill="#1a1a1a" font-family="Liberation Serif, serif" font-style="italic" textLength="5.69" lengthAdjust="spacingAndGlyphs"  stroke="#1a1a1a" stroke-width="0.22">ṽ</text>
<text x="149.72" y="317.83" font-size="7.4" fill="#1a1a1a" font-family="Liberation Serif, serif" font-style="italic" textLength="3.79" lengthAdjust="spacingAndGlyphs"  stroke="#1a1a1a" stroke-width="0.16">r</text>
<text x="153.48" y="315.70" font-size="9.99" fill="#1a1a1a" font-family="Liberation Serif, serif" font-style="italic" textLength="7.22" lengthAdjust="spacingAndGlyphs"  stroke="#1a1a1a" stroke-width="0.22">ñ</text>
<text x="160.42" y="312.37" font-size="7.03" fill="#1a1a1a" font-family="Liberation Serif, serif" textLength="4.85" lengthAdjust="spacingAndGlyphs"  stroke="#1a1a1a" stroke-width="0.15">2</text>
<text x="164.87" y="316.39" font-size="9.34" fill="#1a1a1a" font-family="DejaVu Sans, sans-serif" textLength="4.25" lengthAdjust="spacingAndGlyphs"  stroke="#1a1a1a" stroke-width="0.21">⟩</text>
<text x="168.71" y="316.25" font-size="11.1" fill="#1a1a1a" font-family="Liberation Serif, serif" textLength="5.55" lengthAdjust="spacingAndGlyphs"  stroke="#1a1a1a" stroke-width="0.24">/</text>
<text x="174.82" y="315.70" font-size="9.99" fill="#1a1a1a" font-family="Liberation Serif, serif" textLength="6.23" lengthAdjust="spacingAndGlyphs"  stroke="#1a1a1a" stroke-width="0.22">2</text>
<text x="138.79" y="167.80" font-size="11" fill="#444" font-family="Liberation Serif, serif" font-style="italic" textLength="6.57" lengthAdjust="spacingAndGlyphs"  stroke="#444" stroke-width="0.05">A</text>
<text x="146.85" y="167.80" font-size="11" fill="#444" font-family="Liberation Serif, serif" textLength="7.39" lengthAdjust="spacingAndGlyphs"  stroke="#444" stroke-width="0.05">=</text>
<text x="155.14" y="167.80" font-size="11" fill="#444" font-family="Liberation Serif, serif" textLength="2.81" lengthAdjust="spacingAndGlyphs"  stroke="#444" stroke-width="0.05">|</text>
<text x="157.44" y="167.80" font-size="10" fill="#444" font-family="Liberation Serif, serif" font-style="italic" textLength="5.09" lengthAdjust="spacingAndGlyphs"  stroke="#444" stroke-width="0.05">ñ</text>
<text x="162.34" y="167.80" font-size="11" fill="#444" font-family="Liberation Serif, serif" textLength="2.81" lengthAdjust="spacingAndGlyphs"  stroke="#444" stroke-width="0.05">|</text>
<text x="168.00" y="167.80" font-size="11" fill="#444" font-family="Liberation Serif, serif" textLength="4.00" lengthAdjust="spacingAndGlyphs"  stroke="#444" stroke-width="0.05">/</text>
<text x="175.24" y="167.80" font-size="11" fill="#444" font-family="Liberation Serif, serif" font-style="italic" textLength="5.98" lengthAdjust="spacingAndGlyphs"  stroke="#444" stroke-width="0.05">σ</text>
<text x="181.85" y="169.50" font-size="7" fill="#444" font-family="Liberation Serif, serif" font-style="italic" textLength="4.98" lengthAdjust="spacingAndGlyphs"  stroke="#444" stroke-width="0.05">ñ</text>
<text x="127.39" y="51.90" font-size="8.2" fill="#222" font-family="Liberation Serif, serif" textLength="3.11" lengthAdjust="spacingAndGlyphs"  stroke="#222" stroke-width="0.18">(</text>
<text x="130.85" y="51.90" font-size="8.0" fill="#222" font-family="Liberation Serif, serif" font-style="italic" textLength="4.98" lengthAdjust="spacingAndGlyphs"  stroke="#222" stroke-width="0.18">ñ</text>
<text x="137.83" y="51.90" font-size="8.2" fill="#222" font-family="Liberation Serif, serif" textLength="6.30" lengthAdjust="spacingAndGlyphs"  stroke="#222" stroke-width="0.18">&gt;</text>
<text x="145.68" y="51.90" font-size="8.2" fill="#222" font-family="Liberation Serif, serif" textLength="4.25" lengthAdjust="spacingAndGlyphs"  stroke="#222" stroke-width="0.18">0</text>
<text x="149.72" y="51.90" font-size="8.2" fill="#222" font-family="Liberation Serif, serif" textLength="2.85" lengthAdjust="spacingAndGlyphs"  stroke="#222" stroke-width="0.18">)</text>
<text x="128.19" y="143.40" font-size="8.2" fill="#222" font-family="Liberation Serif, serif" textLength="3.11" lengthAdjust="spacingAndGlyphs"  stroke="#222" stroke-width="0.18">(</text>
<text x="131.65" y="143.40" font-size="8.0" fill="#222" font-family="Liberation Serif, serif" font-style="italic" textLength="4.98" lengthAdjust="spacingAndGlyphs"  stroke="#222" stroke-width="0.18">ñ</text>
<text x="138.64" y="143.40" font-size="8.2" fill="#222" font-family="Liberation Serif, serif" textLength="6.30" lengthAdjust="spacingAndGlyphs"  stroke="#222" stroke-width="0.18">&lt;</text>
<text x="146.48" y="143.40" font-size="8.2" fill="#222" font-family="Liberation Serif, serif" textLength="4.25" lengthAdjust="spacingAndGlyphs"  stroke="#222" stroke-width="0.18">0</text>
<text x="150.52" y="143.40" font-size="8.2" fill="#222" font-family="Liberation Serif, serif" textLength="2.85" lengthAdjust="spacingAndGlyphs"  stroke="#222" stroke-width="0.18">)</text>
<text x="0.70" y="217.10" font-size="10.3" fill="#1a1a1a" font-family="Liberation Serif, serif" textLength="7.87" lengthAdjust="spacingAndGlyphs"  stroke="#1a1a1a" stroke-width="0.23">∑</text>
<text x="7.87" y="220.70" font-size="8" fill="#1a1a1a" font-family="Liberation Serif, serif" font-style="italic" textLength="4.64" lengthAdjust="spacingAndGlyphs"  stroke="#1a1a1a" stroke-width="0.18">ñ</text>
<text x="13.34" y="220.70" font-size="8" fill="#1a1a1a" font-family="Liberation Serif, serif" font-style="italic" textLength="2.64" lengthAdjust="spacingAndGlyphs"  stroke="#1a1a1a" stroke-width="0.18">/</text>
<text x="16.64" y="220.70" font-size="8" fill="#1a1a1a" font-family="Liberation Serif, serif" font-style="italic" textLength="4.38" lengthAdjust="spacingAndGlyphs"  stroke="#1a1a1a" stroke-width="0.18">σ</text>
<text x="21.31" y="221.80" font-size="5.8" fill="#1a1a1a" font-family="Liberation Serif, serif" font-style="italic" textLength="4.07" lengthAdjust="spacingAndGlyphs"  stroke="#1a1a1a" stroke-width="0.13">ñ</text>
<text x="26.03" y="220.80" font-size="8" fill="#1a1a1a" font-family="Liberation Serif, serif" textLength="9.36" lengthAdjust="spacingAndGlyphs"  stroke="#1a1a1a" stroke-width="0.18">≥2</text>
<text x="36.45" y="217.60" font-size="10.4" fill="#1a1a1a" font-family="Liberation Serif, serif" font-style="italic" textLength="5.89" lengthAdjust="spacingAndGlyphs"  stroke="#1a1a1a" stroke-width="0.23">P</text>
<text x="42.56" y="217.60" font-size="10.4" fill="#1a1a1a" font-family="Liberation Serif, serif" textLength="3.37" lengthAdjust="spacingAndGlyphs"  stroke="#1a1a1a" stroke-width="0.23">(</text>
<text x="46.97" y="217.60" font-size="10.4" fill="#1a1a1a" font-family="Liberation Serif, serif" font-style="italic" textLength="5.20" lengthAdjust="spacingAndGlyphs"  stroke="#1a1a1a" stroke-width="0.23">A</text>
<text x="53.11" y="217.60" font-size="10.4" fill="#1a1a1a" font-family="Liberation Serif, serif" textLength="4.02" lengthAdjust="spacingAndGlyphs"  stroke="#1a1a1a" stroke-width="0.23">)</text>
<text x="0.70" y="270.70" font-size="10.3" fill="#1a1a1a" font-family="Liberation Serif, serif" textLength="7.87" lengthAdjust="spacingAndGlyphs"  stroke="#1a1a1a" stroke-width="0.23">∑</text>
<text x="7.87" y="274.30" font-size="8" fill="#1a1a1a" font-family="Liberation Serif, serif" font-style="italic" textLength="4.64" lengthAdjust="spacingAndGlyphs"  stroke="#1a1a1a" stroke-width="0.18">ñ</text>
<text x="13.34" y="274.30" font-size="8" fill="#1a1a1a" font-family="Liberation Serif, serif" font-style="italic" textLength="2.64" lengthAdjust="spacingAndGlyphs"  stroke="#1a1a1a" stroke-width="0.18">/</text>
<text x="16.64" y="274.30" font-size="8" fill="#1a1a1a" font-family="Liberation Serif, serif" font-style="italic" textLength="4.38" lengthAdjust="spacingAndGlyphs"  stroke="#1a1a1a" stroke-width="0.18">σ</text>
<text x="21.31" y="275.40" font-size="5.8" fill="#1a1a1a" font-family="Liberation Serif, serif" font-style="italic" textLength="4.07" lengthAdjust="spacingAndGlyphs"  stroke="#1a1a1a" stroke-width="0.13">ñ</text>
<text x="26.03" y="274.40" font-size="8" fill="#1a1a1a" font-family="Liberation Serif, serif" textLength="14.36" lengthAdjust="spacingAndGlyphs"  stroke="#1a1a1a" stroke-width="0.18">≤−2</text>
<text x="41.45" y="271.20" font-size="10.4" fill="#1a1a1a" font-family="Liberation Serif, serif" font-style="italic" textLength="5.89" lengthAdjust="spacingAndGlyphs"  stroke="#1a1a1a" stroke-width="0.23">P</text>
<text x="47.56" y="271.20" font-size="10.4" fill="#1a1a1a" font-family="Liberation Serif, serif" textLength="3.37" lengthAdjust="spacingAndGlyphs"  stroke="#1a1a1a" stroke-width="0.23">(</text>
<text x="51.97" y="271.20" font-size="10.4" fill="#1a1a1a" font-family="Liberation Serif, serif" font-style="italic" textLength="5.20" lengthAdjust="spacingAndGlyphs"  stroke="#1a1a1a" stroke-width="0.23">A</text>
<text x="58.11" y="271.20" font-size="10.4" fill="#1a1a1a" font-family="Liberation Serif, serif" textLength="4.02" lengthAdjust="spacingAndGlyphs"  stroke="#1a1a1a" stroke-width="0.23">)</text>
</svg>
</body></html>
